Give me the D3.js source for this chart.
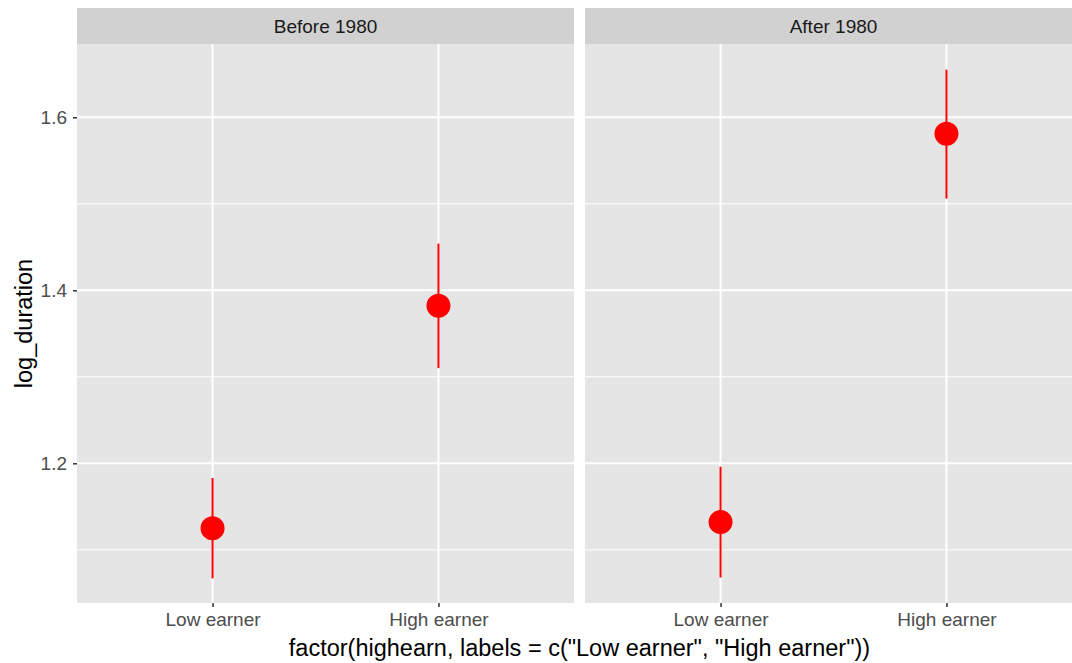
<!DOCTYPE html>
<html>
<head>
<meta charset="utf-8">
<script src="https://cdn.jsdelivr.net/npm/d3@7"></script>
<style>
  html, body { margin: 0; padding: 0; background: #fff; overflow: hidden; }
  svg { display: block; font-family: "Liberation Sans", Arial, sans-serif; }
</style>
</head>
<body>
<svg id="chart" width="1072" height="663"></svg>
<script>
// ---- data ----
const panels = ["Before 1980", "After 1980"];
const categories = ["Low earner", "High earner"];
const beforeMean = [1.125, 1.382];
const beforeLow  = [1.067, 1.310];
const beforeHigh = [1.183, 1.454];
const afterMean  = [1.132, 1.581];
const afterLow   = [1.068, 1.506];
const afterHigh  = [1.196, 1.655];
const yTicks = [1.2, 1.4, 1.6];
const yMinor = [1.1, 1.3, 1.5];
const xTitle = 'factor(highearn, labels = c("Low earner", "High earner"))';
const yTitle = "log_duration";

const series = [
  { mean: beforeMean, lo: beforeLow, hi: beforeHigh },
  { mean: afterMean, lo: afterLow, hi: afterHigh }
];

// ---- layout ----
const svg = d3.select("#chart");
const plotLeft = 77, panelW = 497, panelGap = 11;
const stripTop = 8, stripH = 36;
const plotTop = stripTop + stripH, plotBottom = 603;
const tickFont = 19;

const y = d3.scaleLinear().domain([1.0385, 1.6847]).range([plotBottom, plotTop]);

panels.forEach((p, i) => {
  const x0 = plotLeft + i * (panelW + panelGap);
  const x = d3.scalePoint().domain(categories).range([x0, x0 + panelW]).padding(0.6);
  const g = svg.append("g");

  // strip
  g.append("rect").attr("x", x0).attr("y", stripTop).attr("width", panelW).attr("height", stripH)
    .attr("fill", "#d1d1d1");
  g.append("text").attr("x", x0 + panelW / 2).attr("y", stripTop + stripH / 2)
    .attr("dy", "0.35em").attr("text-anchor", "middle").attr("font-size", tickFont)
    .attr("fill", "#1a1a1a").text(p);

  // panel background
  g.append("rect").attr("x", x0).attr("y", plotTop).attr("width", panelW)
    .attr("height", plotBottom - plotTop).attr("fill", "#e5e5e5");

  // minor grid
  g.selectAll(".minor").data(yMinor).join("line")
    .attr("x1", x0).attr("x2", x0 + panelW)
    .attr("y1", d => y(d)).attr("y2", d => y(d))
    .attr("stroke", "#fff").attr("stroke-width", 1);
  // major grid
  g.selectAll(".major").data(yTicks).join("line")
    .attr("x1", x0).attr("x2", x0 + panelW)
    .attr("y1", d => y(d)).attr("y2", d => y(d))
    .attr("stroke", "#fff").attr("stroke-width", 2);
  g.selectAll(".vmajor").data(categories).join("line")
    .attr("x1", d => x(d)).attr("x2", d => x(d))
    .attr("y1", plotTop).attr("y2", plotBottom)
    .attr("stroke", "#fff").attr("stroke-width", 2);

  // error bars
  const s = series[i];
  g.selectAll(".err").data(categories).join("line")
    .attr("x1", d => x(d)).attr("x2", d => x(d))
    .attr("y1", (d, k) => y(s.lo[k])).attr("y2", (d, k) => y(s.hi[k]))
    .attr("stroke", "#ff0000").attr("stroke-width", 2);
  g.selectAll(".pt").data(categories).join("circle")
    .attr("cx", d => x(d)).attr("cy", (d, k) => y(s.mean[k])).attr("r", 12)
    .attr("fill", "#ff0000");

  // x axis
  const xa = g.append("g").attr("transform", `translate(0,${plotBottom})`)
    .call(d3.axisBottom(x).tickSize(4).tickPadding(6));
  xa.select(".domain").remove();
  xa.selectAll(".tick line").attr("stroke", "#333").attr("stroke-width", 1.5);
  xa.selectAll(".tick text").attr("fill", "#4d4d4d").attr("font-size", tickFont)
    .attr("font-family", "Liberation Sans, Arial, sans-serif");

  if (i === 0) {
    const ya = g.append("g").attr("transform", `translate(${x0},0)`)
      .call(d3.axisLeft(y).tickValues(yTicks).tickFormat(d3.format(".1f")).tickSize(4).tickPadding(6));
    ya.select(".domain").remove();
    ya.selectAll(".tick line").attr("stroke", "#333").attr("stroke-width", 1.5);
    ya.selectAll(".tick text").attr("fill", "#4d4d4d").attr("font-size", tickFont)
      .attr("font-family", "Liberation Sans, Arial, sans-serif");
  }
});

// axis titles
const fullRight = plotLeft + 2 * panelW + panelGap;
svg.append("text").attr("x", (plotLeft + fullRight) / 2).attr("y", 656)
  .attr("text-anchor", "middle").attr("font-size", 23.5).attr("fill", "#000").text(xTitle);
svg.append("text").attr("transform", `translate(32,${(plotTop + plotBottom) / 2}) rotate(-90)`)
  .attr("text-anchor", "middle").attr("font-size", 23.5).attr("fill", "#000").text(yTitle);
</script>
</body>
</html>
